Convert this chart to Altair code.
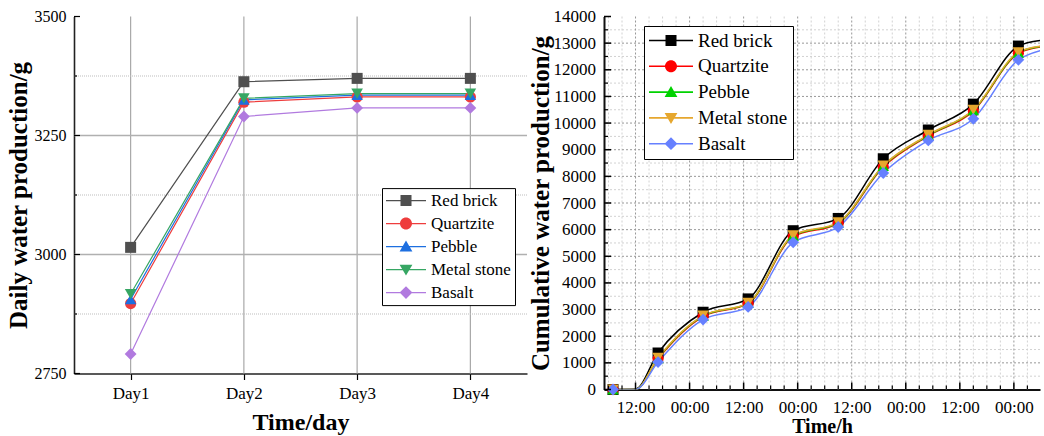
import altair as alt
import pandas as pd

SERIF = "Liberation Serif"

# ---------------- left panel: daily water production ----------------
days = ["Day1", "Day2", "Day3", "Day4"]
series_names = ["Red brick", "Quartzite", "Pebble", "Metal stone", "Basalt"]
daily_red_brick = [3015, 3363, 3370, 3370]
daily_quartzite = [2897, 3320, 3331, 3331]
daily_pebble = [2906, 3325, 3335, 3335]
daily_metal_stone = [2917, 3328, 3338, 3338]
daily_basalt = [2791, 3290, 3308, 3308]
daily_ticks_major = [2750, 3000, 3250, 3500]
daily_grid_major = [3000, 3250]
daily_ticks_minor = [2875, 3125, 3375]

# ---------------- right panel: cumulative water production ----------------
# (last value = where each curve leaves the visible plot edge)
cum_hours = [7, 12, 17, 27, 37, 47, 57, 67, 77, 87, 97, 101.8]
cum_marker_hours = [7, 17, 27, 37, 47, 57, 67, 77, 87, 97]
cum_red_brick = [0, 20, 1370, 2900, 3400, 5960, 6420, 8660, 9740, 10710, 12890, 13100]
cum_quartzite = [0, 0, 1150, 2740, 3220, 5740, 6230, 8350, 9520, 10450, 12620, 12860]
cum_pebble = [0, 0, 1170, 2760, 3240, 5770, 6255, 8385, 9540, 10480, 12640, 12870]
cum_metal_stone = [0, 0, 1190, 2775, 3250, 5790, 6275, 8410, 9560, 10500, 12660, 12880]
cum_basalt = [0, 0, 1030, 2625, 3100, 5525, 6100, 8125, 9350, 10160, 12375, 12720]
hour_ticks_major = [12, 24, 36, 48, 60, 72, 84, 96]
hour_ticks_minor = [6, 9, 15, 18, 21, 27, 30, 33, 39, 42, 45, 51, 54, 57, 63, 66, 69,
                    75, 78, 81, 87, 90, 93, 99]
cum_ticks_major = [0, 1000, 2000, 3000, 4000, 5000, 6000, 7000, 8000, 9000, 10000,
                   11000, 12000, 13000, 14000]
cum_grid_major = [1000, 2000, 3000, 4000, 5000, 6000, 7000, 8000, 9000, 10000,
                  11000, 12000, 13000]
cum_ticks_minor = [500, 1500, 2500, 3500, 4500, 5500, 6500, 7500, 8500, 9500, 10500,
                   11500, 12500, 13500]

left_colors = ["#4f4f4f", "#ee3d3d", "#1d6fe0", "#36a663", "#b17adf"]
right_colors = ["#000000", "#ff0000", "#00d200", "#e6a72e", "#6680ff"]
std_shapes = ["square", "circle", "triangle-up", "triangle-down", "diamond"]


def legend_paths(L, h, sq, ci, tw, tu, td, di):
    line = f"M{-L},{-h}H{L}V{h}H{-L}Z"
    shapes = [
        f"M{-sq},{-sq}H{sq}V{sq}H{-sq}Z",
        f"M{ci},0A{ci},{ci} 0 1,1 {-ci},0A{ci},{ci} 0 1,1 {ci},0Z",
        f"M0,{-tu}L{tw},{td}L{-tw},{td}Z",
        f"M0,{tu}L{-tw},{-td}L{tw},{-td}Z",
        f"M0,{-di}L{di},0L0,{di}L{-di},0Z",
    ]
    return [line + " " + s for s in shapes]


daily_values = [daily_red_brick, daily_quartzite, daily_pebble, daily_metal_stone, daily_basalt]
daily_df = pd.DataFrame(
    [{"Day": d, "Value": v, "Series": s}
     for s, vals in zip(series_names, daily_values) for d, v in zip(days, vals)]
)
cum_values = [cum_red_brick, cum_quartzite, cum_pebble, cum_metal_stone, cum_basalt]
cum_df = pd.DataFrame(
    [{"Hours": h, "Value": v, "Series": s, "Marker": h in cum_marker_hours}
     for s, vals in zip(series_names, cum_values) for h, v in zip(cum_hours, vals)]
)


def ticks_df(values):
    return pd.DataFrame({"Tick": values})


# ---------------- left chart ----------------
W1, H1 = 453, 357
xs1 = alt.Scale(type="point", domain=days, padding=0.5)
ys1 = alt.Scale(domain=[2750, 3500], nice=False, zero=False)
col1 = alt.Scale(domain=series_names, range=left_colors)

ax_x1 = alt.Axis(
    title="Time/day", labelAngle=0, tickSize=6, tickColor="black", tickWidth=1.2,
    domainColor="#222222", domainWidth=1.6, grid=False,
    labelFont=SERIF, labelFontSize=17, labelColor="black", labelPadding=6,
    titleFont=SERIF, titleFontSize=24, titleFontWeight="bold", titleColor="black",
    titlePadding=9)
ax_y1 = alt.Axis(
    title="Daily water production/g", values=daily_ticks_major, format="d",
    ticks=False, tickSize=0, grid=False, domainColor="#222222", domainWidth=1.6,
    labelFont=SERIF, labelFontSize=16, labelColor="black", labelPadding=8,
    titleFont=SERIF, titleFontSize=25, titleFontWeight="bold", titleColor="black",
    titlePadding=3)

X1 = lambda f: alt.X(f, scale=xs1, axis=ax_x1)
Y1 = lambda f: alt.Y(f, scale=ys1, axis=ax_y1)

vgrid1 = alt.Chart(pd.DataFrame({"Day": days})).mark_rule(
    color="#a8a8a8", strokeWidth=1.2).encode(x=X1("Day:N"))
hgrid1_minor = alt.Chart(ticks_df(daily_ticks_minor)).mark_rule(
    color="#bdbdbd", strokeWidth=1, strokeDash=[1, 1]).encode(y=Y1("Tick:Q"))
hgrid1_major = alt.Chart(ticks_df(daily_grid_major)).mark_rule(
    color="#b0b0b0", strokeWidth=1.4).encode(y=Y1("Tick:Q"))
yticks1_major = alt.Chart(ticks_df(daily_ticks_major)).mark_rule(
    color="black", strokeWidth=1.2).encode(y=Y1("Tick:Q"), x=alt.value(0), x2=alt.value(6))
yticks1_minor = alt.Chart(ticks_df(daily_ticks_minor)).mark_rule(
    color="black", strokeWidth=1.2).encode(y=Y1("Tick:Q"), x=alt.value(0), x2=alt.value(3))

base1 = alt.Chart(daily_df)
line1 = base1.mark_line(strokeWidth=1.2).encode(
    x=X1("Day:N"), y=Y1("Value:Q"),
    color=alt.Color("Series:N", scale=col1, legend=None),
)
pts1 = base1.mark_point(filled=True, opacity=1).encode(
    x=X1("Day:N"), y=Y1("Value:Q"),
    color=alt.Color("Series:N", scale=col1, legend=None),
    shape=alt.Shape("Series:N", scale=alt.Scale(domain=series_names, range=std_shapes), legend=None),
    size=alt.Size("Series:N", scale=alt.Scale(domain=series_names, range=[121, 140, 190, 190, 180]),
                  legend=None),
)
leg_left = alt.Legend(
    title=None, orient="none", legendX=308, legendY=171.6,
    labelFont=SERIF, labelFontSize=17, labelColor="black", labelOffset=16.5,
    symbolSize=64, symbolOffset=11.5, symbolStrokeWidth=0, symbolOpacity=1,
    rowPadding=5, padding=4, strokeColor="black", fillColor="white",
)
leg1 = base1.transform_calculate(Legend="datum.Series").mark_point(filled=True, opacity=0).encode(
    x=X1("Day:N"), y=Y1("Value:Q"),
    color=alt.Color("Legend:N", scale=alt.Scale(domain=series_names, range=left_colors), legend=leg_left),
    shape=alt.Shape("Legend:N", scale=alt.Scale(
        domain=series_names,
        range=legend_paths(5, 0.16, 1.375, 1.5, 1.6, 1.5, 1.2, 1.6)), legend=leg_left),
)
left = alt.layer(vgrid1, hgrid1_minor, hgrid1_major, line1, pts1, yticks1_major,
                 yticks1_minor, leg1).resolve_scale(
    color="independent", shape="independent").properties(width=W1, height=H1)

# ---------------- right chart ----------------
W2, H2 = 436, 373
xs2 = alt.Scale(domain=[5, 101.8], nice=False, zero=False)
ys2 = alt.Scale(domain=[0, 14000], nice=False, zero=False)
col2 = alt.Scale(domain=series_names, range=right_colors)

ax_x2 = alt.Axis(
    title="Time/h", values=hour_ticks_major,
    labelExpr="datum.value % 24 == 0 ? '00:00' : '12:00'",
    ticks=False, tickSize=0, grid=False, domainColor="#111111", domainWidth=2,
    labelFont=SERIF, labelFontSize=17, labelColor="black", labelPadding=9.5,
    titleFont=SERIF, titleFontSize=20, titleFontWeight="bold", titleColor="black",
    titlePadding=1)
ax_y2 = alt.Axis(
    title="Cumulative water production/g", values=cum_ticks_major, format="d",
    ticks=False, tickSize=0, grid=False, domainColor="#111111", domainWidth=2,
    labelFont=SERIF, labelFontSize=17, labelColor="black", labelPadding=8.5,
    titleFont=SERIF, titleFontSize=25, titleFontWeight="bold", titleColor="black",
    titlePadding=0)

X2 = lambda f: alt.X(f, scale=xs2, axis=ax_x2)
Y2 = lambda f: alt.Y(f, scale=ys2, axis=ax_y2)

vgrid2_minor = alt.Chart(ticks_df(hour_ticks_minor)).mark_rule(
    color="#d2d2d2", strokeWidth=1, strokeDash=[2, 2]).encode(x=X2("Tick:Q"))
hgrid2_minor = alt.Chart(ticks_df(cum_ticks_minor)).mark_rule(
    color="#d2d2d2", strokeWidth=1, strokeDash=[2, 2]).encode(y=Y2("Tick:Q"))
vgrid2_major = alt.Chart(ticks_df(hour_ticks_major)).mark_rule(
    color="#989898", strokeWidth=1, strokeDash=[2, 2]).encode(x=X2("Tick:Q"))
hgrid2_major = alt.Chart(ticks_df(cum_grid_major)).mark_rule(
    color="#989898", strokeWidth=1, strokeDash=[2, 2]).encode(y=Y2("Tick:Q"))
xticks2_major = alt.Chart(ticks_df(hour_ticks_major)).mark_rule(
    color="black", strokeWidth=1.5).encode(
    x=X2("Tick:Q"), y=alt.value(H2), y2=alt.value(H2 - 7))
xticks2_minor = alt.Chart(ticks_df(hour_ticks_minor)).mark_rule(
    color="black", strokeWidth=1.2).encode(
    x=X2("Tick:Q"), y=alt.value(H2), y2=alt.value(H2 - 4))
yticks2_major = alt.Chart(ticks_df(cum_ticks_major)).mark_rule(
    color="black", strokeWidth=1.5).encode(y=Y2("Tick:Q"), x=alt.value(0), x2=alt.value(7))
yticks2_minor = alt.Chart(ticks_df(cum_ticks_minor)).mark_rule(
    color="black", strokeWidth=1.2).encode(y=Y2("Tick:Q"), x=alt.value(0), x2=alt.value(4))

base2 = alt.Chart(cum_df)
line2 = base2.mark_line(strokeWidth=1.5, interpolate="monotone", clip=True).encode(
    x=X2("Hours:Q"), y=Y2("Value:Q"),
    color=alt.Color("Series:N", scale=col2, legend=None),
)
pts2 = base2.transform_filter("datum.Marker").mark_point(filled=True, opacity=1).encode(
    x=X2("Hours:Q"), y=Y2("Value:Q"),
    color=alt.Color("Series:N", scale=col2, legend=None),
    shape=alt.Shape("Series:N", scale=alt.Scale(domain=series_names, range=std_shapes), legend=None),
    size=alt.Size("Series:N", scale=alt.Scale(domain=series_names, range=[64, 64, 95, 95, 90]),
                  legend=None),
)
leg_right = alt.Legend(
    title=None, orient="none", legendX=40, legendY=9.5,
    labelFont=SERIF, labelFontSize=19, labelColor="black", labelOffset=17.5,
    symbolSize=64, symbolOffset=12.5, symbolStrokeWidth=0, symbolOpacity=1,
    rowPadding=5.8, padding=5, strokeColor="black", fillColor="white",
)
leg2 = base2.transform_filter("datum.Marker").transform_calculate(
    Legend="datum.Series").mark_point(filled=True, opacity=0).encode(
    x=X2("Hours:Q"), y=Y2("Value:Q"),
    color=alt.Color("Legend:N", scale=alt.Scale(domain=series_names, range=right_colors), legend=leg_right),
    shape=alt.Shape("Legend:N", scale=alt.Scale(
        domain=series_names,
        range=legend_paths(5.5, 0.2, 1.375, 1.5, 1.6, 1.5, 1.2, 1.6)), legend=leg_right),
)
right = alt.layer(vgrid2_minor, hgrid2_minor, vgrid2_major, hgrid2_major, line2, pts2,
                  xticks2_major, xticks2_minor, yticks2_major, yticks2_minor, leg2).resolve_scale(
    color="independent", shape="independent").properties(width=W2, height=H2)

chart = alt.hconcat(left, right, spacing=0).properties(
    padding={"left": 6, "top": 7.5, "right": 0, "bottom": 0},
    background="white",
).configure_view(stroke=None)

chart.save("out.html", embed_options={"renderer": "svg", "actions": False})
